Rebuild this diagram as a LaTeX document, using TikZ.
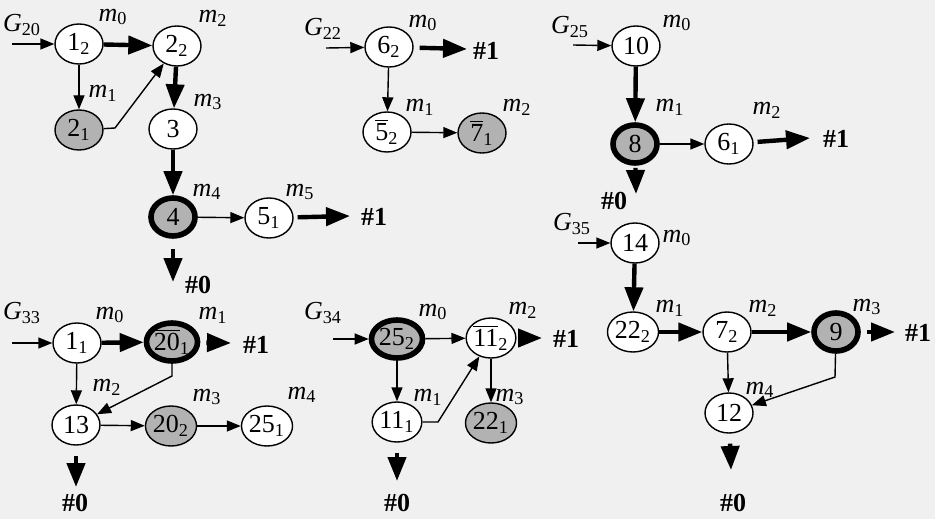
\documentclass[tikz,border=0pt]{standalone}
\usepackage{fontspec}
\setmainfont{Liberation Serif}
\usetikzlibrary{arrows.meta, shapes.geometric}

\newcommand{\gl}[2]{\textit{#1}\textsubscript{#2}}
\newcommand{\ovl}[1]{$\overline{\mbox{#1}}$}

\begin{document}
\begin{tikzpicture}[
        x=0.5pt, y=-0.5pt,
        font=\fontsize{13}{15}\selectfont,
        state/.style={
            ellipse,
            draw,
            line width=0.7pt,
            fill=white,
            minimum width=24pt,
            minimum height=20pt,
            inner sep=0pt
        },
        shaded/.style={state, fill=black!30},
        heavy/.style={shaded, line width=2.8pt, minimum width=22pt, minimum height=19pt},
        edge/.style={line width=0.7pt, -{Triangle[length=7pt,width=5.5pt]}},
        fat/.style={line width=2.2pt, -{Triangle[length=12pt,width=9pt]}},
        tag/.style={inner sep=0pt}
    ]

    \fill[black!6] (0,0) rectangle (935,519);

    % G20
    \node[tag] (tg20) at (22,25) {\gl{G}{20}};
    \coordinate (g20) at (12,44);
    \node[state] (n12) at (79,44) {1\textsubscript{2}};
    \node[state] (n22) at (177,46) {2\textsubscript{2}};
    \node[shaded] (n21) at (79,130) {2\textsubscript{1}};
    \node[state] (n3) at (173,129) {3};
    \node[heavy] (n4) at (173,217) {4};
    \node[state] (n51) at (269,218) {5\textsubscript{1}};
    \coordinate (b21) at (115,128);
    \coordinate (o51) at (350,216);
    \coordinate (z4) at (173,282);
    \node[tag] at (113,17) {\gl{m}{0}};
    \node[tag] at (103,93) {\gl{m}{1}};
    \node[tag] at (213,18) {\gl{m}{2}};
    \node[tag] at (208,102) {\gl{m}{3}};
    \node[tag] at (207,192) {\gl{m}{4}};
    \node[tag] at (300,192) {\gl{m}{5}};
    \node[tag] at (374,217) {\textbf{\#1}};
    \node[tag] at (198,285) {\textbf{\#0}};

    \draw[edge] (g20) -- (n12);
    \draw[fat] (n12) -- (n22);
    \draw[edge] (n12) -- (n21);
    \draw[edge] (n21) -- (b21) -- (n22);
    \draw[fat] (n22) -- (n3);
    \draw[fat] (n3) -- (n4);
    \draw[edge] (n4) -- (n51);
    \draw[fat, shorten <=2pt] (n51) -- (o51);
    \draw[fat, shorten <=5pt] (n4) -- (z4);

    % G22
    \node[tag] (tg22) at (323,29) {\gl{G}{22}};
    \coordinate (g22) at (326,48);
    \node[state] (n62) at (389,47) {6\textsubscript{2}};
    \node[state] (n52) at (387,132) {\ovl{5}\textsubscript{2}};
    \node[shaded] (n71) at (482,133) {\ovl{7}\textsubscript{1}};
    \coordinate (o62) at (467,49);
    \node[tag] at (423,23) {\gl{m}{0}};
    \node[tag] at (420,107) {\gl{m}{1}};
    \node[tag] at (517,107) {\gl{m}{2}};
    \node[tag] at (486,51) {\textbf{\#1}};

    \draw[edge] (g22) -- (n62);
    \draw[fat, shorten <=3pt] (n62) -- (o62);
    \draw[edge] (n62) -- (n52);
    \draw[edge] (n52) -- (n71);

    % G25
    \node[tag] (tg25) at (570,27) {\gl{G}{25}};
    \coordinate (g25) at (573,45);
    \node[state] (n10) at (636,46) {10};
    \node[heavy] (n8) at (635,144) {8};
    \node[state] (n61) at (729,144) {6\textsubscript{1}};
    \coordinate (o61) at (810,138);
    \coordinate (z8) at (636,194);
    \node[tag] at (677,23) {\gl{m}{0}};
    \node[tag] at (670,107) {\gl{m}{1}};
    \node[tag] at (767,110) {\gl{m}{2}};
    \node[tag] at (836,139) {\textbf{\#1}};
    \node[tag] at (614,201) {\textbf{\#0}};

    \draw[edge] (g25) -- (n10);
    \draw[fat] (n10) -- (n8);
    \draw[edge] (n8) -- (n61);
    \draw[fat, shorten <=2pt] (n61) -- (o61);
    \draw[fat, shorten <=1pt] (n8) -- (z8);

    % G35
    \node[tag] (tg35) at (572,224) {\gl{G}{35}};
    \coordinate (g35) at (578,243);
    \node[state] (n14) at (635,243) {14};
    \node[state] (n222) at (633,332) {22\textsubscript{2}};
    \node[state] (n72) at (727,332) {7\textsubscript{2}};
    \node[heavy] (n9) at (836,332) {9};
    \node[state] (n12b) at (729,413) {12};
    \coordinate (b9) at (835,377);
    \coordinate (o9) at (895,332);
    \coordinate (z12) at (731,470);
    \node[tag] at (677,238) {\gl{m}{0}};
    \node[tag] at (670,308) {\gl{m}{1}};
    \node[tag] at (763,308) {\gl{m}{2}};
    \node[tag] at (867,307) {\gl{m}{3}};
    \node[tag] at (760,390) {\gl{m}{4}};
    \node[tag] at (918,333) {\textbf{\#1}};
    \node[tag] at (733,503) {\textbf{\#0}};

    \draw[edge] (g35) -- (n14);
    \draw[fat] (n14) -- (n222);
    \draw[fat] (n222) -- (n72);
    \draw[fat] (n72) -- (n9);
    \draw[fat, shorten <=3pt] (n9) -- (o9);
    \draw[edge] (n72) -- (n12b);
    \draw[edge] (n9) -- (b9) -- (n12b);
    \draw[fat, shorten <=5pt] (n12b) -- (z12);

    % G33
    \node[tag] (tg33) at (22,313) {\gl{G}{33}};
    \coordinate (g33) at (12,343);
    \node[state] (n11) at (77,343) {1\textsubscript{1}};
    \node[heavy] (n201) at (172,342) {\ovl{20}\textsubscript{1}};
    \node[state] (n13) at (76,425) {13};
    \node[shaded] (n202) at (171,426) {20\textsubscript{2}};
    \node[state] (n251) at (267,426) {25\textsubscript{1}};
    \coordinate (b201) at (172,376);
    \coordinate (o201) at (231,343);
    \coordinate (z13) at (76,487);
    \node[tag] at (110,315) {\gl{m}{0}};
    \node[tag] at (213,315) {\gl{m}{1}};
    \node[tag] at (107,387) {\gl{m}{2}};
    \node[tag] at (207,397) {\gl{m}{3}};
    \node[tag] at (302,395) {\gl{m}{4}};
    \node[tag] at (256,345) {\textbf{\#1}};
    \node[tag] at (75,503) {\textbf{\#0}};

    \draw[edge] (g33) -- (n11);
    \draw[fat] (n11) -- (n201);
    \draw[fat, shorten <=3pt] (n201) -- (o201);
    \draw[edge] (n11) -- (n13);
    \draw[edge] (n201) -- (b201) -- (n13);
    \draw[edge] (n13) -- (n202);
    \draw[edge] (n202) -- (n251);
    \draw[fat, shorten <=5pt] (n13) -- (z13);

    % G34
    \node[tag] (tg34) at (323,313) {\gl{G}{34}};
    \coordinate (g34) at (333,339);
    \node[heavy] (n252) at (397,339) {25\textsubscript{2}};
    \node[state] (n112) at (491,338) {\ovl{11}\textsubscript{2}};
    \node[state] (n111) at (397,422) {11\textsubscript{1}};
    \node[shaded] (n221) at (491,423) {22\textsubscript{1}};
    \coordinate (b111) at (438,422);
    \coordinate (o112) at (542,338);
    \coordinate (z111) at (397,481);
    \node[tag] at (433,312) {\gl{m}{0}};
    \node[tag] at (523,310) {\gl{m}{2}};
    \node[tag] at (428,397) {\gl{m}{1}};
    \node[tag] at (510,397) {\gl{m}{3}};
    \node[tag] at (566,339) {\textbf{\#1}};
    \node[tag] at (397,503) {\textbf{\#0}};

    \draw[edge] (g34) -- (n252);
    \draw[edge] (n252) -- (n112);
    \draw[fat, shorten <=2pt] (n112) -- (o112);
    \draw[edge] (n252) -- (n111);
    \draw[edge] (n111) -- (b111) -- (n112);
    \draw[edge] (n112) -- (n221);
    \draw[fat, shorten <=5pt] (n111) -- (z111);

\end{tikzpicture}
\end{document}
